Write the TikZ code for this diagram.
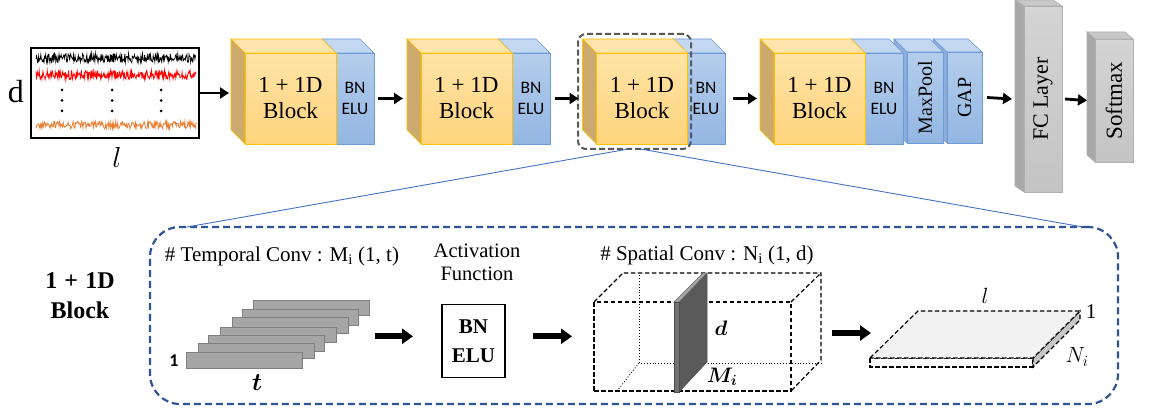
\RequirePackage{fix-cm}
\documentclass[tikz,border=0pt]{standalone}
\usepackage{amsmath}
\usepackage{fontspec}
\setmainfont{Liberation Serif}
\setsansfont{Carlito}
\usetikzlibrary{arrows.meta}
\definecolor{ytop}{HTML}{FFE3A6}
\definecolor{ybot}{HTML}{FFD47C}
\definecolor{ybord}{HTML}{FFC000}
\definecolor{yside}{HTML}{CCAA6E}
\definecolor{ytopf}{HTML}{FFE5AD}
\definecolor{btop}{HTML}{B4CDEC}
\definecolor{bbot}{HTML}{93B6E2}
\definecolor{bbord}{HTML}{6C9BD8}
\definecolor{btopf}{HTML}{C3D7F0}
\definecolor{bside}{HTML}{8FAFDA}
\definecolor{gtop}{HTML}{D4D4D4}
\definecolor{gbot}{HTML}{C4C4C4}
\definecolor{gside}{HTML}{A8A8A8}
\definecolor{gtopf}{HTML}{C8C8C8}
\definecolor{gbord}{HTML}{B0B0B0}
\definecolor{frameblue}{HTML}{2F5597}
\definecolor{lineblue}{HTML}{4472C4}
\definecolor{sigorange}{HTML}{ED7D31}
\definecolor{hlgray}{HTML}{595959}
\definecolor{stkgray}{HTML}{A6A6A6}
\definecolor{stkbord}{HTML}{7F7F7F}
\definecolor{slabdark}{HTML}{5A5A5A}
\definecolor{slabtop}{HTML}{A6A6A6}
\newcommand\myfs[2]{\fontsize{#1}{#2}\selectfont}
\newcommand\cubefaces[6]{%
  \filldraw[fill=#4,draw=#6,line width=0.6pt] (#1.north west) -- ([shift={(-#2,-#3)}]#1.north west) -- ([shift={(-#2,-#3)}]#1.north east) -- (#1.north east) -- cycle;
  \filldraw[fill=#5,draw=#6,line width=0.6pt] (#1.north west) -- ([shift={(-#2,-#3)}]#1.north west) -- ([shift={(-#2,-#3)}]#1.south west) -- (#1.south west) -- cycle;}
\begin{document}
\begin{tikzpicture}[x=1pt,y=-1pt,
  yfront/.style={draw=ybord,line width=0.7pt,top color=ytop,bottom color=ybot,minimum width=91pt,minimum height=91pt,inner sep=0pt,outer sep=0pt,align=center,font=\myfs{23}{26}},
  bfront/.style={draw=bbord,line width=0.7pt,top color=btop,bottom color=bbot,minimum height=91pt,inner sep=0pt,outer sep=0pt,align=center,font=\sffamily\myfs{17.5}{21}},
  gfront/.style={draw=gbord,line width=0.7pt,top color=gtop,bottom color=gbot,inner sep=0pt,outer sep=0pt,minimum width=38pt},
  arr/.style={line width=2.8pt,-{Triangle[length=9pt,width=11pt]}},
  barr/.style={line width=6pt,-{Triangle[length=11pt,width=15pt]}},
  stk/.style={fill=stkgray,draw=stkbord,line width=0.8pt,minimum width=116pt,minimum height=15.5pt,inner sep=0pt,outer sep=0pt},
  sdash/.style={dash pattern=on 4.5pt off 2.5pt,line width=1.2pt},
  vtext/.style={rotate=90,inner sep=0pt}
]
\useasboundingbox (0,0) rectangle (1149,409);
\fill[white] (0,0) rectangle (1149,409);

% ---- input signals
\node[draw,fill=white,line width=1.2pt,minimum width=168pt,minimum height=90pt,inner sep=0pt,outer sep=0pt] (in) at (115,93) {};
\pgfmathsetseed{7}
\draw[black,line width=0.8pt] plot[domain=36:196,samples=300] (\x,{58+4.5*rand});
\draw[red,line width=0.8pt] plot[domain=36:196,samples=300] (\x,{75+4.5*rand});
\draw[sigorange,line width=0.8pt] plot[domain=36:196,samples=260] (\x,{125+3.8*rand});
\foreach \xx in {62,112,161} \foreach \yy in {90,100.5,111} \fill (\xx,\yy) circle (1.5pt);
\node[font=\myfs{32}{34}] (dl) at (16,92) {d};
\node[font=\myfs{29}{31}] (ll) at (117,157) {$l$};

% ---- block 1
\node[bfront,minimum width=38pt] (bn1) at (355,98.5) {BN\\ELU};
\cubefaces{bn1}{14}{14}{btopf}{bside}{bbord}
\node[yfront] (b1) at (290.5,98.5) {1 + 1D\\Block};
\cubefaces{b1}{14}{14}{ytopf}{yside}{ybord}
% ---- block 2
\node[bfront,minimum width=38pt] (bn2) at (531,98.5) {BN\\ELU};
\cubefaces{bn2}{14}{14}{btopf}{bside}{bbord}
\node[yfront] (b2) at (466.5,98.5) {1 + 1D\\Block};
\cubefaces{b2}{14}{14}{ytopf}{yside}{ybord}
% ---- block 3
\node[bfront,minimum width=38pt] (bn3) at (706,98.5) {BN\\ELU};
\cubefaces{bn3}{14}{14}{btopf}{bside}{bbord}
\node[yfront] (b3) at (642,98.5) {1 + 1D\\Block};
\cubefaces{b3}{14}{14}{ytopf}{yside}{ybord}
\node[draw=hlgray,line width=2pt,dash pattern=on 6pt off 3pt,rounded corners=8pt,minimum width=113pt,minimum height=115pt,inner sep=0pt,outer sep=0pt] (hl) at (634.5,91.5) {};
% ---- block 4
\node[bfront,minimum width=35pt] (gap) at (964.5,97.5) {};
\cubefaces{gap}{14}{13}{btopf}{bside}{bbord}
\node[vtext,font=\myfs{20}{22}] (gapt) at (gap) {GAP};
\node[bfront,minimum width=36pt] (mp) at (925,97.5) {};
\cubefaces{mp}{13}{13}{btopf}{bside}{bbord}
\node[vtext,font=\myfs{20}{22}] (mpt) at (mp) {MaxPool};
\node[bfront,minimum width=38pt] (bn4) at (884,98.5) {BN\\ELU};
\cubefaces{bn4}{14}{14}{btopf}{bside}{bbord}
\node[yfront] (b4) at (819.5,98.5) {1 + 1D\\Block};
\cubefaces{b4}{14}{14}{ytopf}{yside}{ybord}
% ---- FC and softmax
\node[gfront,minimum height=186pt] (fc) at (1043,99) {};
\cubefaces{fc}{9}{6}{gtopf}{gside}{gbord}
\node[vtext,font=\myfs{22}{24}] (fct) at (fc) {FC Layer};
\node[gfront,minimum height=123pt] (sm) at (1114,100.5) {};
\cubefaces{sm}{8}{7}{gtopf}{gside}{gbord}
\node[vtext,font=\myfs{23}{25}] (smt) at (sm) {Softmax};

% ---- top arrows
\coordinate (a0) at (in.east -| b1.west);
\draw[arr] (in.east) -- ([xshift=-16pt]a0);
\draw[arr] ([xshift=4pt]bn1.east) -- ([xshift=-18pt]b2.west);
\draw[arr] ([xshift=5pt]bn2.east) -- ([xshift=-18pt]b3.west);
\draw[arr] ([xshift=8pt]bn3.east) -- ([xshift=-17pt]b4.west);
\draw[arr] ([xshift=5pt]gap.east) -- ([xshift=-12pt]fc.west);
\draw[arr] ([xshift=3pt]fc.east) -- ([xshift=-8pt]sm.west);

% ---- detail frame
\node[draw=frameblue,line width=2.2pt,dash pattern=on 7pt off 4pt,rounded corners=30pt,minimum width=968pt,minimum height=177pt,inner sep=0pt,outer sep=0pt] (big) at (634,315.5) {};
\draw[lineblue,line width=0.9pt] ([xshift=-6pt]hl.south) -- ([xshift=37pt]big.north west);
\draw[lineblue,line width=0.9pt] ([xshift=6pt]hl.south) -- ([xshift=-35pt]big.north east);

\node[font=\bfseries\myfs{24}{30},align=center] (blab) at (80,296) {1\hspace{0.3em}+\hspace{0.3em}1D\\Block};

% temporal conv
\node[anchor=base,font=\myfs{21}{24}] (tc) at (282,261) {\# Temporal Conv : M\textsubscript{i} (1, t)};
\node[stk] (s7) at (311.3,308) {};
\node[stk] (s6) at (300,317.5) {};
\node[stk] (s5) at (290.3,325.5) {};
\node[stk] (s4) at (278,335) {};
\node[stk] (s3) at (266.3,343.2) {};
\node[stk] (s2) at (256.3,350.8) {};
\node[stk] (s1) at (244.7,360.5) {};
\node[font=\sffamily\bfseries\myfs{18}{20}] (one) at (174,361) {1};
\node[font=\myfs{25}{27}] (tl) at (257,383) {$\boldsymbol{t}$};

% activation
\node[anchor=base,font=\myfs{20.5}{24}] (af1) at (477,257) {Activation};
\node[anchor=base,font=\myfs{20.5}{24}] (af2) at (477,280) {Function};
\node[draw,line width=1.2pt,minimum width=63pt,minimum height=73pt,inner sep=0pt,outer sep=0pt,align=center,font=\bfseries\myfs{21}{29}] (bnb) at (473.5,341.3) {BN\\ELU};
\draw[barr] ([shift={(-67,-5)}]bnb.west) -- ([shift={(-29,-5)}]bnb.west);
\draw[barr] ([shift={(28,-5)}]bnb.east) -- ([shift={(67,-5)}]bnb.east);

% spatial conv
\node[anchor=base,font=\myfs{21}{24}] (sc) at (707,260) {\# Spatial Conv : N\textsubscript{i} (1, d)};
\draw[dotted,line width=0.9pt] (639,275) -- (639,363) -- (821,363);
\draw[dotted,line width=0.9pt] (639,363) -- (617,391);
\node[sdash,draw,minimum width=197pt,minimum height=89pt,inner sep=0pt,outer sep=0pt] (sp) at (692.5,346.5) {};
\draw[sdash] (sp.north west) -- (623,273) -- (821,273) -- (821,360) -- (sp.south east);
\draw[sdash] (sp.north east) -- (821,273);
\filldraw[fill=slabdark,draw=black!70,line width=0.5pt] (679,302) -- (707,273) -- (707,362) -- (679,392) -- cycle;
\filldraw[fill=slabtop,draw=black!60,line width=0.5pt] (674,302) -- (679,302) -- (707,273) -- (703,273) -- cycle;
\filldraw[fill=black!55,draw=black!70,line width=0.5pt] (674,302) rectangle (679,392);
\node[font=\myfs{21}{23}] (dd) at (721,328) {$\boldsymbol{d}$};
\node[font=\myfs{21}{23}] (mi) at (722,377) {$\boldsymbol{M_i}$};
\draw[barr] ([shift={(41,-13.5)}]sp.east) -- ([shift={(80,-13.5)}]sp.east);

% output slab
\filldraw[sdash,fill=white] (870,358) rectangle (1033,367);
\filldraw[sdash,fill=black!22] (1033,358) -- (1080,311) -- (1080,320) -- (1033,367) -- cycle;
\filldraw[sdash,fill=black!5] (870,358) -- (918,311) -- (1080,311) -- (1033,358) -- cycle;
\node[font=\myfs{22}{24}] (lo) at (985,296) {$l$};
\node[font=\myfs{21}{23}] (oo) at (1091,312) {1};
\node[font=\myfs{22}{24}] (ni) at (1077,357) {$N_i$};
\end{tikzpicture}
\end{document}
